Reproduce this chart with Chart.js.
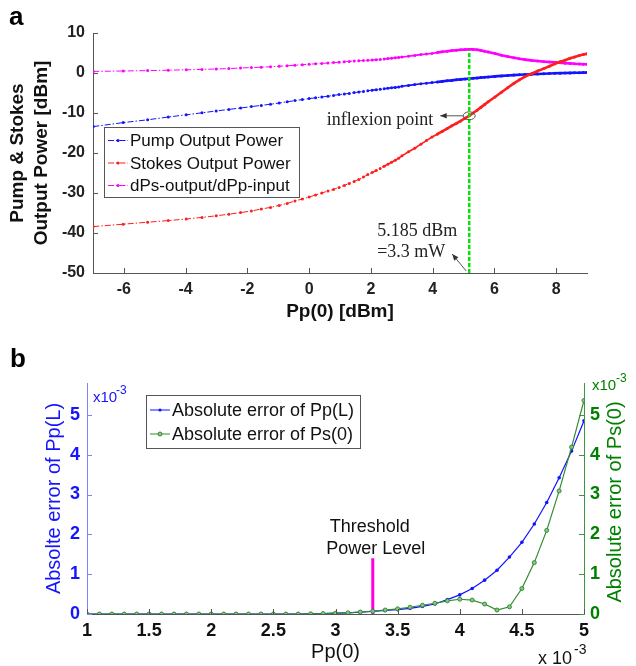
<!DOCTYPE html>
<html>
<head>
<meta charset="utf-8">
<script src="https://cdn.jsdelivr.net/npm/chart.js@4"></script>
<style>
  html, body { margin: 0; padding: 0; background: #fff; }
  #wrap { position: relative; width: 636px; height: 666px; }
  #topChart { position: absolute; left: 0; top: 0; }
  #botChart { position: absolute; left: 0; top: 340px; }
</style>
</head>
<body>
<div id="wrap">
  <canvas id="topChart" width="636" height="330"></canvas>
  <canvas id="botChart" width="636" height="326"></canvas>
</div>
<script>
// ---- panel a: pump / stokes output vs Pp(0) [dBm] ----
const PP_DBM = [-6.99, -6.02, -5.23, -4.56, -3.98, -3.47, -3.01, -2.60, -2.22, -1.87,
  -1.55, -1.25, -0.97, -0.71, -0.46, -0.22, 0.00, 0.21, 0.41, 0.61,
  0.79, 0.97, 1.14, 1.30, 1.46, 1.61, 1.76, 1.90, 2.04, 2.17,
  2.30, 2.43, 2.55, 2.67, 2.79, 2.90, 3.01, 3.22, 3.42, 3.62,
  3.80, 3.98, 4.15, 4.31, 4.47, 4.62, 4.77, 4.91, 5.05, 5.185,
  5.31, 5.44, 5.56, 5.68, 5.80, 6.02, 6.23, 6.43, 6.63, 6.81,
  6.99, 7.20, 7.40, 7.60, 7.78, 7.96, 8.13, 8.29, 8.45, 8.60,
  8.75, 8.88, 9.00];

const PUMP_OUT = [-13.4, -12.4, -11.7, -11.0, -10.45, -9.95, -9.5, -9.1, -8.75, -8.4,
  -8.1, -7.8, -7.5, -7.2, -6.9, -6.65, -6.4, -6.2, -6.0, -5.8,
  -5.6, -5.4, -5.25, -5.1, -4.9, -4.75, -4.6, -4.45, -4.3, -4.2,
  -4.05, -3.95, -3.8, -3.7, -3.6, -3.5, -3.3, -3.1, -2.9, -2.7,
  -2.55, -2.4, -2.25, -2.1, -1.95, -1.85, -1.7, -1.6, -1.5, -1.4,
  -1.32, -1.24, -1.15, -1.07, -1.0, -0.85, -0.72, -0.62, -0.52, -0.45,
  -0.38, -0.3, -0.24, -0.18, -0.13, -0.08, -0.04, 0.0, 0.03, 0.06,
  0.08, 0.1, 0.12];

const STOKES_OUT = [-38.4, -37.8, -37.3, -36.9, -36.5, -36.1, -35.7, -35.3, -34.9, -34.5,
  -34.0, -33.6, -33.1, -32.6, -32.0, -31.5, -31.0, -30.5, -30.0, -29.5,
  -29.1, -28.6, -28.1, -27.6, -27.1, -26.6, -26.0, -25.4, -24.9, -24.4,
  -23.9, -23.3, -22.8, -22.3, -21.8, -21.3, -20.7, -19.7, -18.8, -17.8,
  -16.9, -16.0, -15.3, -14.6, -13.9, -13.2, -12.6, -12.0, -11.3, -10.7,
  -10.0, -9.3, -8.6, -7.9, -7.2, -6.0, -4.8, -3.7, -2.6, -1.7,
  -0.9, -0.2, 0.5, 1.1, 1.7, 2.3, 2.8, 3.2, 3.7, 4.0,
  4.4, 4.6, 4.8];

const DPS_DPP = [0.4, 0.5, 0.6, 0.7, 0.8, 0.9, 1.0, 1.1, 1.25, 1.35,
  1.45, 1.55, 1.7, 1.8, 1.95, 2.05, 2.2, 2.3, 2.4, 2.5,
  2.6, 2.7, 2.8, 2.9, 3.0, 3.05, 3.1, 3.2, 3.25, 3.3,
  3.4, 3.5, 3.6, 3.7, 3.8, 3.9, 4.0, 4.2, 4.4, 4.6,
  4.75, 4.9, 5.1, 5.3, 5.45, 5.6, 5.7, 5.8, 5.85, 5.9,
  5.9, 5.8, 5.65, 5.45, 5.25, 4.85, 4.45, 4.1, 3.8, 3.55,
  3.35, 3.15, 3.0, 2.85, 2.75, 2.65, 2.55, 2.45, 2.4, 2.3,
  2.25, 2.2, 2.2];

const INFLEXION_DBM = 5.185;
const INFLEXION_LINE_Y = [-50, 5.7];

// ---- panel b: absolute errors vs Pp(0) (x 10^-3) ----
const PP0 = [1.0, 1.1, 1.2, 1.3, 1.4, 1.5, 1.6, 1.7, 1.8, 1.9,
  2.0, 2.1, 2.2, 2.3, 2.4, 2.5, 2.6, 2.7, 2.8, 2.9,
  3.0, 3.1, 3.2, 3.3, 3.4, 3.5, 3.6, 3.7, 3.8, 3.9,
  4.0, 4.1, 4.2, 4.3, 4.4, 4.5, 4.6, 4.7, 4.8, 4.9, 5.0];

const ERR_PPL = [0, 0, 0, 0, 0, 0, 0, 0, 0, 0,
  0, 0, 0, 0, 0, 0, 0, 0, 0.005, 0.01,
  0.02, 0.03, 0.045, 0.065, 0.09, 0.11, 0.14, 0.19, 0.25, 0.36,
  0.48, 0.64, 0.85, 1.1, 1.43, 1.8, 2.26, 2.8, 3.42, 4.09, 4.85];

const ERR_PS0 = [0, 0, 0, 0, 0, 0, 0, 0, 0, 0,
  0, 0, 0, 0, 0, 0, 0, 0, 0.005, 0.01,
  0.02, 0.03, 0.05, 0.07, 0.1, 0.13, 0.17, 0.22, 0.27, 0.33,
  0.37, 0.35, 0.25, 0.1, 0.18, 0.64, 1.29, 2.1, 3.09, 4.19, 5.36];

const THRESHOLD_X = 3.3;
const THRESHOLD_Y = [0, 1.4];

// colours
const BLUE = 'rgb(20,20,255)';
const RED = 'rgb(255,30,30)';
const PINK = 'rgb(255,0,255)';
const GREEN_B = 'rgb(50,140,50)';
const SANS = '"Liberation Sans", Arial, sans-serif';
const DASHDOT = [6, 2, 1.5, 2];

const toXY = (xs, ys) => xs.map((x, i) => ({ x, y: ys[i] }));

// markers merge into a thick line where the samples get dense
const denseSegment = {
  borderWidth: c => c.p0.parsed.x < 2 ? 1 : (c.p0.parsed.x < 4 ? 1.6 : 2.6),
  borderDash: c => c.p0.parsed.x < 2.5 ? DASHDOT : []
};

function arrow(ctx, x0, y0, x1, y1) {
  const a = Math.atan2(y1 - y0, x1 - x0);
  ctx.beginPath();
  ctx.moveTo(x0, y0);
  ctx.lineTo(x1, y1);
  ctx.stroke();
  ctx.beginPath();
  ctx.moveTo(x1, y1);
  ctx.lineTo(x1 - 7 * Math.cos(a - 0.4), y1 - 7 * Math.sin(a - 0.4));
  ctx.lineTo(x1 - 7 * Math.cos(a + 0.4), y1 - 7 * Math.sin(a + 0.4));
  ctx.closePath();
  ctx.fill();
}

function drawLegend(ctx, box, rows, fontSize) {
  ctx.save();
  ctx.fillStyle = '#fff';
  ctx.fillRect(box.x, box.y, box.w, box.h);
  ctx.strokeStyle = '#555';
  ctx.lineWidth = 1;
  ctx.strokeRect(box.x + 0.5, box.y + 0.5, box.w, box.h);
  rows.forEach(r => {
    ctx.strokeStyle = r.color;
    ctx.lineWidth = 1;
    ctx.setLineDash(r.dash || []);
    ctx.beginPath();
    ctx.moveTo(box.x + 4, r.y);
    ctx.lineTo(box.x + 24, r.y);
    ctx.stroke();
    ctx.setLineDash([]);
    ctx.fillStyle = r.fill || r.color;
    ctx.beginPath();
    ctx.arc(box.x + 14, r.y, r.radius || 1.6, 0, 2 * Math.PI);
    ctx.fill();
    if (r.fill) ctx.stroke();
    ctx.fillStyle = '#111';
    ctx.font = fontSize + 'px ' + SANS;
    ctx.textAlign = 'left';
    ctx.textBaseline = 'middle';
    ctx.fillText(r.text, box.x + 26, r.y + 1);
  });
  ctx.restore();
}

// MATLAB style ticks pointing into the plot
const inwardTicks = {
  id: 'inwardTicks',
  afterDatasetsDraw(chart) {
    const { ctx, chartArea: area } = chart;
    Object.values(chart.scales).forEach(s => {
      ctx.save();
      ctx.strokeStyle = s.options.border.color;
      ctx.lineWidth = 1;
      ctx.beginPath();
      s.ticks.forEach(t => {
        const p = Math.round(s.getPixelForValue(t.value)) + 0.5;
        if (s.isHorizontal()) {
          ctx.moveTo(p, area.bottom); ctx.lineTo(p, area.bottom - 5);
        } else if (s.position === 'left') {
          ctx.moveTo(area.left, p); ctx.lineTo(area.left + 5, p);
        } else {
          ctx.moveTo(area.right, p); ctx.lineTo(area.right - 5, p);
        }
      });
      ctx.stroke();
      ctx.restore();
    });
  }
};

const topNotes = {
  id: 'topNotes',
  afterDraw(chart) {
    const { ctx } = chart;
    const px = chart.scales.x.getPixelForValue(INFLEXION_DBM);
    const iy = chart.scales.y.getPixelForValue(STOKES_OUT[PP_DBM.indexOf(INFLEXION_DBM)]);
    const bottom = chart.chartArea.bottom;
    ctx.save();
    ctx.strokeStyle = '#555';
    ctx.fillStyle = '#333';
    ctx.lineWidth = 1;
    ctx.beginPath();
    ctx.ellipse(px, iy, 6, 4, 0, 0, 2 * Math.PI);
    ctx.stroke();
    arrow(ctx, px - 6, iy, px - 29, iy);
    arrow(ctx, px - 3, bottom - 2, px - 17, bottom - 19);
    ctx.font = '18px "Liberation Serif", "Times New Roman", serif';
    ctx.fillStyle = '#222';
    ctx.textBaseline = 'middle';
    ctx.textAlign = 'right';
    ctx.fillText('inflexion point', px - 36, iy + 4);
    ctx.textAlign = 'left';
    ctx.fillText('5.185 dBm', px - 92, 231);
    ctx.fillText('=3.3 mW', px - 92, 252);
    ctx.font = 'bold 26px ' + SANS;
    ctx.fillStyle = '#000';
    ctx.textBaseline = 'alphabetic';
    ctx.fillText('a', 9, 25);
    ctx.restore();
    drawLegend(ctx, { x: 104, y: 127, w: 195, h: 70 }, [
      { text: 'Pump Output Power', color: BLUE, dash: DASHDOT, y: 140.5 },
      { text: 'Stokes Output Power', color: RED, dash: DASHDOT, y: 163 },
      { text: 'dPs-output/dPp-input', color: PINK, dash: DASHDOT, y: 185.5 }
    ], 17);
  }
};

const botNotes = {
  id: 'botNotes',
  afterDraw(chart) {
    const { ctx } = chart;
    const tx = chart.scales.x.getPixelForValue(THRESHOLD_X);
    ctx.save();
    ctx.textBaseline = 'middle';
    ctx.textAlign = 'center';
    ctx.fillStyle = '#111';
    ctx.font = '18px ' + SANS;
    ctx.fillText('Threshold', tx - 3, 187);
    ctx.fillText('Power Level', tx + 3, 209);
    // exponent labels
    ctx.textAlign = 'left';
    ctx.fillStyle = BLUE;
    ctx.font = '15px ' + SANS;
    ctx.fillText('x10', 93, 58);
    ctx.font = '12px ' + SANS;
    ctx.fillText('-3', 116, 51);
    ctx.fillStyle = 'rgb(0,128,0)';
    ctx.font = '15px ' + SANS;
    ctx.fillText('x10', 592, 46);
    ctx.font = '12px ' + SANS;
    ctx.fillText('-3', 616, 39);
    ctx.fillStyle = '#111';
    ctx.font = '18px ' + SANS;
    ctx.fillText('x 10', 538, 319);
    ctx.font = '14px ' + SANS;
    ctx.fillText('-3', 574, 310);
    // right axis title reads bottom to top
    ctx.save();
    ctx.translate(615, 162);
    ctx.rotate(-Math.PI / 2);
    ctx.textAlign = 'center';
    ctx.fillStyle = 'rgb(0,128,0)';
    ctx.font = '20px ' + SANS;
    ctx.fillText('Absolute error of Ps(0)', 0, 0);
    ctx.restore();
    ctx.font = 'bold 26px ' + SANS;
    ctx.fillStyle = '#000';
    ctx.textBaseline = 'alphabetic';
    ctx.fillText('b', 10, 27);
    ctx.restore();
    drawLegend(ctx, { x: 146, y: 55, w: 214, h: 53 }, [
      { text: 'Absolute error of Pp(L)', color: BLUE, y: 70 },
      { text: 'Absolute error of Ps(0)', color: GREEN_B, fill: 'rgb(140,195,140)', radius: 2, y: 94 }
    ], 18);
  }
};

// ---------- chart a ----------
new Chart(document.getElementById('topChart'), {
  type: 'line',
  data: {
    datasets: [
      {
        label: 'inflexion', data: toXY([INFLEXION_DBM, INFLEXION_DBM], INFLEXION_LINE_Y),
        borderColor: 'rgb(0,230,0)', borderWidth: 2.5, borderDash: [4, 2], pointRadius: 0, order: 0
      },
      {
        label: 'Stokes Output Power', data: toXY(PP_DBM, STOKES_OUT),
        borderColor: RED, backgroundColor: RED, pointRadius: 1.5, pointBorderWidth: 0,
        segment: denseSegment, order: 1
      },
      {
        label: 'dPs-output/dPp-input', data: toXY(PP_DBM, DPS_DPP),
        borderColor: PINK, backgroundColor: PINK, pointRadius: 1.5, pointBorderWidth: 0,
        segment: denseSegment, order: 2
      },
      {
        label: 'Pump Output Power', data: toXY(PP_DBM, PUMP_OUT),
        borderColor: BLUE, backgroundColor: BLUE, pointRadius: 1.5, pointBorderWidth: 0,
        segment: denseSegment, order: 3
      }
    ]
  },
  options: {
    responsive: false,
    animation: false,
    events: [],
    layout: { padding: { top: 33, right: 49, left: 0, bottom: 0 } },
    plugins: { legend: { display: false }, tooltip: { enabled: false } },
    scales: {
      x: {
        type: 'linear', min: -7, max: 9,
        ticks: { stepSize: 1, padding: 7, color: '#222', font: { family: SANS, size: 16, weight: 'bold' } },
        afterBuildTicks: s => { s.ticks = s.ticks.filter(t => Math.abs(Math.round(t.value) % 2) === 0); },
        grid: { display: false, drawTicks: false },
        border: { color: '#555' },
        title: { display: true, text: 'Pp(0) [dBm]', color: '#111',
          font: { family: SANS, size: 19, weight: 'bold' }, padding: { top: 0, bottom: 7 } },
        afterFit: s => { s.height = 57; }
      },
      y: {
        type: 'linear', min: -50, max: 10,
        ticks: { stepSize: 10, padding: 8, color: '#222', font: { family: SANS, size: 16, weight: 'bold' } },
        grid: { display: false, drawTicks: false },
        border: { color: '#555' },
        title: { display: true, text: ['Pump & Stokes', 'Output Power [dBm]'], color: '#111',
          font: { family: SANS, size: 19, weight: 'bold', lineHeight: 1.26 }, padding: { top: 6, bottom: 0 } },
        afterFit: s => { s.width = 93; }
      }
    }
  },
  plugins: [inwardTicks, topNotes]
});

// ---------- chart b ----------
const intLabel = v => Math.abs(v - Math.round(v)) < 1e-6 ? String(Math.round(v)) : '';
const plainLabel = v => String(Number(v.toFixed(2)));
const dropTop = s => { s.ticks = s.ticks.filter(t => t.value <= 5.5 + 1e-9); };

new Chart(document.getElementById('botChart'), {
  type: 'line',
  data: {
    datasets: [
      {
        label: 'Absolute error of Ps(0)', data: toXY(PP0, ERR_PS0), yAxisID: 'yR',
        borderColor: GREEN_B, backgroundColor: 'rgb(140,195,140)', borderWidth: 1.2,
        pointRadius: 2, pointBorderWidth: 1, pointBorderColor: GREEN_B, order: 0
      },
      {
        label: 'Absolute error of Pp(L)', data: toXY(PP0, ERR_PPL), yAxisID: 'yL',
        borderColor: BLUE, backgroundColor: BLUE, borderWidth: 1.2,
        pointRadius: 1.8, pointBorderWidth: 0, order: 1
      },
      {
        label: 'threshold', data: toXY([THRESHOLD_X, THRESHOLD_X], THRESHOLD_Y), yAxisID: 'yL',
        borderColor: 'rgb(255,0,220)', borderWidth: 3, pointRadius: 0, order: 2
      }
    ]
  },
  options: {
    responsive: false,
    animation: false,
    events: [],
    layout: { padding: { top: 43, right: 0, left: 0, bottom: 0 } },
    plugins: { legend: { display: false }, tooltip: { enabled: false } },
    scales: {
      x: {
        type: 'linear', min: 1, max: 5,
        ticks: { stepSize: 0.5, padding: 6, color: '#111', callback: plainLabel,
          font: { family: SANS, size: 18, weight: 'bold' } },
        grid: { display: false, drawTicks: false },
        border: { color: '#555' },
        title: { display: true, text: 'Pp(0)', color: '#111',
          font: { family: SANS, size: 20 }, padding: { top: 0, bottom: 2 } },
        afterFit: s => { s.height = 52; }
      },
      yL: {
        type: 'linear', position: 'left', min: 0, max: 5.8,
        afterBuildTicks: dropTop,
        ticks: { stepSize: 0.5, padding: 7, color: BLUE, callback: intLabel,
          font: { family: SANS, size: 18, weight: 'bold' } },
        grid: { display: false, drawTicks: false },
        border: { color: 'rgb(130,130,255)' },
        title: { display: true, text: 'Absolte error of Pp(L)', color: BLUE,
          font: { family: SANS, size: 20 }, padding: { top: 42, bottom: 0 } },
        afterFit: s => { s.width = 87; }
      },
      yR: {
        type: 'linear', position: 'right', min: 0, max: 5.8,
        afterBuildTicks: dropTop,
        ticks: { stepSize: 0.5, padding: 6, color: 'rgb(0,128,0)', callback: intLabel,
          font: { family: SANS, size: 18, weight: 'bold' } },
        grid: { display: false, drawTicks: false },
        border: { color: 'rgb(60,150,60)' },
        afterFit: s => { s.width = 52; }
      }
    }
  },
  plugins: [inwardTicks, botNotes]
});
</script>
</body>
</html>
